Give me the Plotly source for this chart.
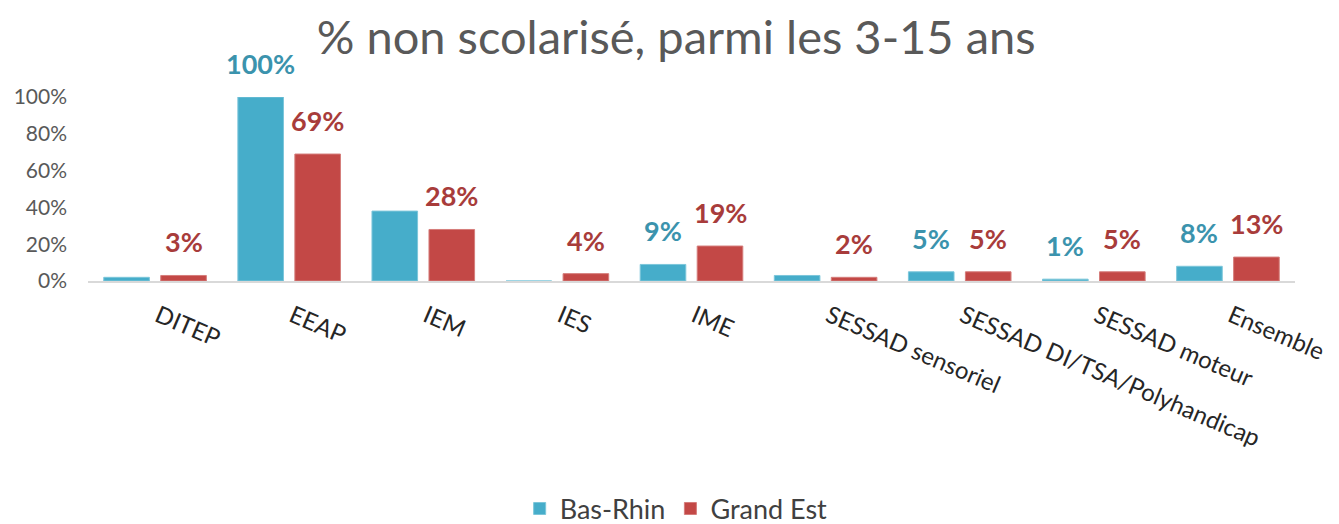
import plotly.graph_objects as go

categories = ["DITEP", "EEAP", "IEM", "IES", "IME", "SESSAD sensoriel",
              "SESSAD DI/TSA/Polyhandicap", "SESSAD moteur", "Ensemble"]
bas_rhin = [2, 100, 38, 0, 9, 3, 5, 1, 8]
grand_est = [3, 69, 28, 4, 19, 2, 5, 5, 13]
bas_rhin_shown = [False, True, False, False, True, False, True, True, True]
grand_est_shown = [True] * 9
y_ticks = [0, 20, 40, 60, 80, 100]
y_tick_labels = ["0%", "20%", "40%", "60%", "80%", "100%"]

BLUE = "#46adca"
RED = "#c34846"
BLUE_TXT = "#3b93ad"
RED_TXT = "#a83c3b"
FONT = "Lato"

fig = go.Figure()
fig.add_trace(go.Bar(x=categories, y=bas_rhin, name="Bas-Rhin",
                     marker=dict(color=BLUE, line=dict(color="#7cc6da", width=1))))
fig.add_trace(go.Bar(x=categories, y=grand_est, name="Grand Est",
                     marker=dict(color=RED, line=dict(color="#d57d7b", width=1))))

annotations = []
for i, c in enumerate(categories):
    if bas_rhin_shown[i]:
        annotations.append(dict(x=c, y=bas_rhin[i], xref="x", yref="y", text=f"<b>{bas_rhin[i]}%</b>",
                                showarrow=False, xshift=-28.5, yshift=15, yanchor="bottom",
                                font=dict(family=FONT, size=27, color=BLUE_TXT)))
    if grand_est_shown[i]:
        annotations.append(dict(x=c, y=grand_est[i], xref="x", yref="y", text=f"<b>{grand_est[i]}%</b>",
                                showarrow=False, xshift=28.5, yshift=15, yanchor="bottom",
                                font=dict(family=FONT, size=27, color=RED_TXT)))

fig.update_layout(
    width=1339, height=524,
    margin=dict(l=80, r=52, t=89, b=251),
    paper_bgcolor="white", plot_bgcolor="white",
    barmode="group", bargap=0.15, bargroupgap=0.2,
    title=dict(text="% non scolarisé, parmi les 3-15 ans", x=0.499, xanchor="center",
               xref="container", yref="container", y=0.944, yanchor="middle",
               font=dict(family=FONT, size=47, color="#595959")),
    font=dict(family=FONT),
    xaxis=dict(showline=True, linecolor="#d9d9d9", linewidth=2, ticks="", tickangle=23,
               tickfont=dict(family=FONT, size=24, color="#262626"), automargin=False,
               ticklabelstandoff=10, ticklabelshift=3),
    yaxis=dict(range=[0, 100], tickvals=y_ticks, ticktext=y_tick_labels, showgrid=False,
               zeroline=False, showline=False, ticklabelstandoff=20,
               tickfont=dict(family=FONT, size=21, color="#595959"), automargin=False),
    legend=dict(orientation="h", x=0.499, xanchor="center", xref="container",
                y=0.044, yanchor="middle", yref="container",
                font=dict(family=FONT, size=27, color="#404040"), itemwidth=30),
    annotations=annotations,
    showlegend=True,
)

fig.write_html("out.html")
